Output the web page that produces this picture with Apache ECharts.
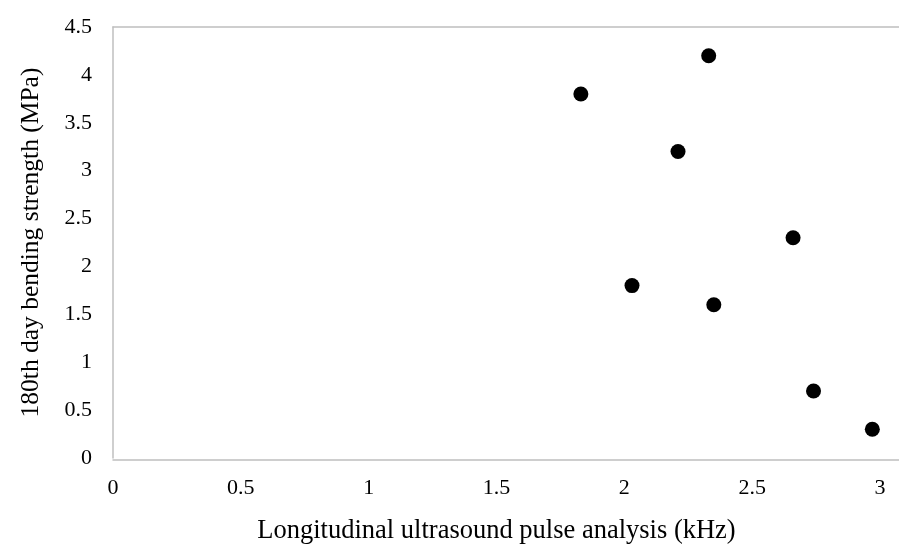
<!DOCTYPE html>
<html>
<head>
<meta charset="utf-8">
<script src="https://cdn.jsdelivr.net/npm/echarts@6/dist/echarts.min.js"></script>
<style>
html,body{margin:0;padding:0;background:#fff;}
#chart{width:899px;height:550px;}
</style>
</head>
<body>
<div id="chart"></div>
<script>
const xValues = [1.83, 2.33, 2.21, 2.66, 2.03, 2.35, 2.74, 2.97];
const yValues = [3.8, 4.2, 3.2, 2.3, 1.8, 1.6, 0.7, 0.3];
const xTitle = 'Longitudinal ultrasound pulse analysis (kHz)';
const yTitle = '180th day bending strength (MPa)';

const FONT = '"Liberation Serif", "Times New Roman", serif';
const AXIS_COLOR = '#BFBFBF';

const chart = echarts.init(document.getElementById('chart'), null, {renderer: 'canvas'});
const points = xValues.map((x, i) => [x, yValues[i]]);

chart.setOption({
  animation: false,
  backgroundColor: '#ffffff',
  grid: [
    {left: 113, right: 19, top: 27, bottom: 90},
    {left: 113, right: 0, top: 27, bottom: 90}
  ],
  xAxis: [
    {
      gridIndex: 0, type: 'value', min: 0, max: 3, interval: 0.5,
      name: xTitle, nameLocation: 'middle', nameGap: 60,
      nameTextStyle: {fontFamily: FONT, fontSize: 26.5, color: '#000'},
      axisLine: {show: false},
      axisTick: {show: false},
      splitLine: {show: false},
      axisLabel: {fontFamily: FONT, fontSize: 22, color: '#000', margin: 19}
    },
    {
      gridIndex: 1, type: 'value', min: 0, max: 1, position: 'bottom',
      axisLine: {show: true, lineStyle: {color: AXIS_COLOR, width: 1.5}},
      axisTick: {show: false}, axisLabel: {show: false}, splitLine: {show: false}
    },
    {
      gridIndex: 1, type: 'value', min: 0, max: 1, position: 'top',
      axisLine: {show: true, lineStyle: {color: AXIS_COLOR, width: 1.5}},
      axisTick: {show: false}, axisLabel: {show: false}, splitLine: {show: false}
    }
  ],
  yAxis: [
    {
      gridIndex: 0, type: 'value', min: 0, max: 4.5, interval: 0.5,
      name: yTitle, nameLocation: 'middle', nameGap: 69, nameRotate: 90,
      nameTextStyle: {fontFamily: FONT, fontSize: 25.5, color: '#000'},
      axisLine: {show: true, lineStyle: {color: AXIS_COLOR, width: 1.5}},
      axisTick: {show: false},
      splitLine: {show: false},
      axisLabel: {fontFamily: FONT, fontSize: 22, color: '#000', margin: 21}
    },
    {
      gridIndex: 1, type: 'value', min: 0, max: 1,
      axisLine: {show: false}, axisTick: {show: false}, axisLabel: {show: false}, splitLine: {show: false}
    }
  ],
  series: [{
    type: 'scatter',
    xAxisIndex: 0, yAxisIndex: 0,
    data: points,
    symbol: 'circle',
    symbolSize: 15,
    itemStyle: {color: '#000', opacity: 1}
  }]
});
</script>
</body>
</html>
